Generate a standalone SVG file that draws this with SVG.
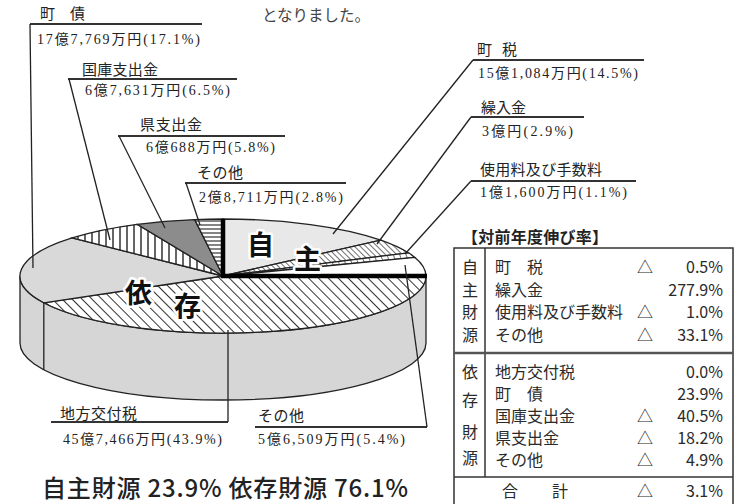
<svg xmlns="http://www.w3.org/2000/svg" width="736" height="504" viewBox="0 0 736 504">
<defs>
<pattern id="hDiag" patternUnits="userSpaceOnUse" width="7" height="7" patternTransform="rotate(-45)">
<rect width="7" height="7" fill="#fff"/><line x1="0" y1="0" x2="0" y2="7" stroke="#333" stroke-width="2"/>
</pattern>
<pattern id="hDiagDense" patternUnits="userSpaceOnUse" width="4" height="4" patternTransform="rotate(-45)">
<rect width="4" height="4" fill="#fff"/><line x1="0" y1="0" x2="0" y2="4" stroke="#333" stroke-width="1.4"/>
</pattern>
<pattern id="hDash" patternUnits="userSpaceOnUse" width="6" height="6" patternTransform="rotate(-20)">
<rect width="6" height="6" fill="#fff"/><line x1="0" y1="0" x2="0" y2="6" stroke="#333" stroke-width="1.4"/>
</pattern>
<pattern id="hVert" patternUnits="userSpaceOnUse" width="7" height="7">
<rect width="7" height="7" fill="#fff"/><line x1="1" y1="0" x2="1" y2="7" stroke="#333" stroke-width="1.5"/>
</pattern>
<pattern id="hHorz" patternUnits="userSpaceOnUse" width="4" height="4">
<rect width="4" height="4" fill="#fff"/><line x1="0" y1="1" x2="4" y2="1" stroke="#333" stroke-width="1.2"/>
</pattern>
</defs>
<style>
.sl{stroke:#222;stroke-width:1.3}
.lead{stroke:#222;stroke-width:1.3;fill:none}
.ul{stroke:#333;stroke-width:2}
.lb{font-family:"Liberation Serif","Noto Sans CJK JP",serif;font-size:14px;fill:#222}
.big{font-family:"Noto Sans CJK JP",sans-serif;font-size:27px;font-weight:bold;fill:#111;stroke:#fff;stroke-width:5;paint-order:stroke;stroke-linejoin:round}
.tb{font-family:"Noto Sans CJK JP",sans-serif;font-size:16px;fill:#2a2a2a}
.end{text-anchor:end}
.tl{stroke:#333;stroke-width:1.5;fill:none}
</style>
<rect width="736" height="504" fill="#fff"/>
<text x="262" y="21" style="font-family:'Noto Sans CJK JP',sans-serif;font-size:15.5px;fill:#444">となりました。</text>

<g id="pie-side">
<path d="M20,276 L20,343 A203,57 0 0 0 426,343 L426,276 A203,57 0 0 1 20,276 Z" fill="#d6d6d6" class="sl"/>
<line x1="43.8" y1="302.8" x2="43.8" y2="369.8" class="sl"/>
</g>

<g id="chiho-kofuzei">
<path d="M223,276 L426,276 A203,57 0 0 1 43.8,302.8 Z" fill="url(#hDiag)" class="sl"/>
<text x="60" y="419" class="lb" style="font-size:15px" textLength="77">地方交付税</text>
<text x="63" y="444" class="lb" textLength="159">45億7,466万円(43.9%)</text>
</g>
<g id="chosai">
<path d="M223,276 L43.8,302.8 A203,57 0 0 1 72.1,237.9 Z" fill="#d9d9d9" class="sl"/>
<text x="40" y="19" class="lb" style="font-size:15px" textLength="45">町　債</text>
<text x="37" y="44" class="lb" textLength="163">17億7,769万円(17.1%)</text>
</g>
<g id="kokko">
<path d="M223,276 L72.1,237.9 A203,57 0 0 1 137.2,224.3 Z" fill="url(#hVert)" class="sl"/>
<text x="82" y="75" class="lb" style="font-size:15px" textLength="76">国庫支出金</text>
<text x="85" y="95" class="lb" textLength="145">6億7,631万円(6.5%)</text>
</g>
<g id="ken">
<path d="M223,276 L137.2,224.3 A203,57 0 0 1 194.7,219.6 Z" fill="#8c8c8c" class="sl"/>
<text x="140" y="130" class="lb" style="font-size:15px" textLength="62">県支出金</text>
<text x="146" y="152" class="lb" textLength="129">6億688万円(5.8%)</text>
</g>
<g id="izon-sonota">
<path d="M223,276 L194.7,219.6 A203,57 0 0 1 223,219 Z" fill="url(#hHorz)" class="sl"/>
<text x="197" y="178" class="lb" style="font-size:15px" textLength="46">その他</text>
<text x="199" y="202" class="lb" textLength="144">2億8,711万円(2.8%)</text>
</g>
<g id="chozei">
<path d="M223,276 L223,219 A203,57 0 0 1 380.8,240.1 Z" fill="#e8e8e8" class="sl"/>
<text x="477" y="55" class="lb" style="font-size:15px" textLength="40">町 税</text>
<text x="478" y="78" class="lb" textLength="160">15億1,084万円(14.5%)</text>
</g>
<g id="kurirekin">
<path d="M223,276 L380.8,240.1 A203,57 0 0 1 408.4,252.8 Z" fill="url(#hDiagDense)" class="sl"/>
<text x="481" y="113" class="lb" style="font-size:15px" textLength="45">繰入金</text>
<text x="482" y="136" class="lb" textLength="91">3億円(2.9%)</text>
</g>
<g id="shiyoryo">
<path d="M223,276 L408.4,252.8 A203,57 0 0 1 414.9,257.4 Z" fill="url(#hDash)" class="sl"/>
<text x="480" y="175" class="lb" style="font-size:15px" textLength="122">使用料及び手数料</text>
<text x="480" y="197" class="lb" textLength="147">1億1,600万円(1.1%)</text>
</g>
<g id="jishu-sonota">
<path d="M223,276 L414.9,257.4 A203,57 0 0 1 426,276 Z" fill="#fff" class="sl"/>
<text x="258" y="421" class="lb" style="font-size:15px" textLength="46">その他</text>
<text x="258" y="444" class="lb" textLength="147">5億6,509万円(5.4%)</text>
</g>

<g id="dividers">
<line x1="223" y1="278" x2="223" y2="219" stroke="#000" stroke-width="4.5"/>
<line x1="221" y1="276" x2="427" y2="276" stroke="#000" stroke-width="4.5"/>
</g>

<g id="pie-words">
<text x="247" y="255" class="big">自</text>
<text x="294" y="269" class="big">主</text>
<text x="125" y="303" class="big">依</text>
<text x="174" y="316" class="big">存</text>
</g>

<g id="connectors">
<line x1="30" y1="24" x2="202" y2="24" class="ul"/>
<line x1="30" y1="24" x2="33" y2="268" class="lead"/>
<line x1="68" y1="79" x2="237" y2="79" class="ul"/>
<line x1="69" y1="79" x2="110" y2="240" class="lead"/>
<line x1="118" y1="136" x2="285" y2="136" class="ul"/>
<line x1="119" y1="136" x2="165" y2="228" class="lead"/>
<line x1="185" y1="183" x2="346" y2="183" class="ul"/>
<line x1="186" y1="183" x2="200" y2="225" class="lead"/>
<line x1="473" y1="60" x2="644" y2="60" class="ul"/>
<line x1="473" y1="60" x2="333" y2="234" class="lead"/>
<line x1="471" y1="117" x2="584" y2="117" class="ul"/>
<line x1="471" y1="117" x2="377" y2="244" class="lead"/>
<line x1="471" y1="181" x2="636" y2="181" class="ul"/>
<line x1="471" y1="181" x2="405" y2="254" class="lead"/>
<line x1="51" y1="422" x2="228" y2="422" class="ul"/>
<line x1="228" y1="422" x2="228" y2="330" class="lead"/>
<line x1="255" y1="427" x2="427" y2="427" class="ul"/>
<line x1="427" y1="427" x2="405" y2="265" class="lead"/>
</g>

<g id="summary">
<text x="42" y="497" textLength="366" style="font-family:'Noto Sans CJK JP',sans-serif;font-size:24px;font-weight:500;fill:#222">自主財源 23.9% 依存財源 76.1%</text>
</g>

<g id="growth-table">
<text x="462" y="243" style="font-family:'Noto Sans CJK JP',sans-serif;font-size:16px;font-weight:bold;fill:#222" textLength="146">【対前年度伸び率】</text>
<path d="M454,510 L454,248 L733,248 L733,510" class="tl"/>
<line x1="485" y1="248" x2="485" y2="477" class="tl"/>
<line x1="454" y1="353" x2="733" y2="353" stroke="#555" stroke-width="2.5"/>
<line x1="454" y1="477" x2="733" y2="477" class="tl"/>
<g class="tb">
<text x="470" y="273" text-anchor="middle">自</text>
<text x="470" y="296" text-anchor="middle">主</text>
<text x="470" y="318" text-anchor="middle">財</text>
<text x="470" y="341" text-anchor="middle">源</text>
<text x="470" y="378" text-anchor="middle">依</text>
<text x="470" y="406" text-anchor="middle">存</text>
<text x="470" y="438" text-anchor="middle">財</text>
<text x="470" y="464" text-anchor="middle">源</text>
<text x="495" y="273">町　税</text>
<text x="495" y="296">繰入金</text>
<text x="495" y="318">使用料及び手数料</text>
<text x="495" y="341">その他</text>
<text x="495" y="378">地方交付税</text>
<text x="495" y="400">町　債</text>
<text x="495" y="422">国庫支出金</text>
<text x="495" y="444">県支出金</text>
<text x="495" y="466">その他</text>
<text x="502" y="497">合</text>
<text x="552" y="497">計</text>
<text x="637" y="273">△</text>
<text x="637" y="318">△</text>
<text x="637" y="341">△</text>
<text x="637" y="422">△</text>
<text x="637" y="444">△</text>
<text x="637" y="466">△</text>
<text x="637" y="497">△</text>
<text x="723" y="273" class="end">0.5%</text>
<text x="723" y="296" class="end">277.9%</text>
<text x="723" y="318" class="end">1.0%</text>
<text x="723" y="341" class="end">33.1%</text>
<text x="723" y="378" class="end">0.0%</text>
<text x="723" y="400" class="end">23.9%</text>
<text x="723" y="422" class="end">40.5%</text>
<text x="723" y="444" class="end">18.2%</text>
<text x="723" y="466" class="end">4.9%</text>
<text x="723" y="497" class="end">3.1%</text>
</g>
</g>
</svg>
